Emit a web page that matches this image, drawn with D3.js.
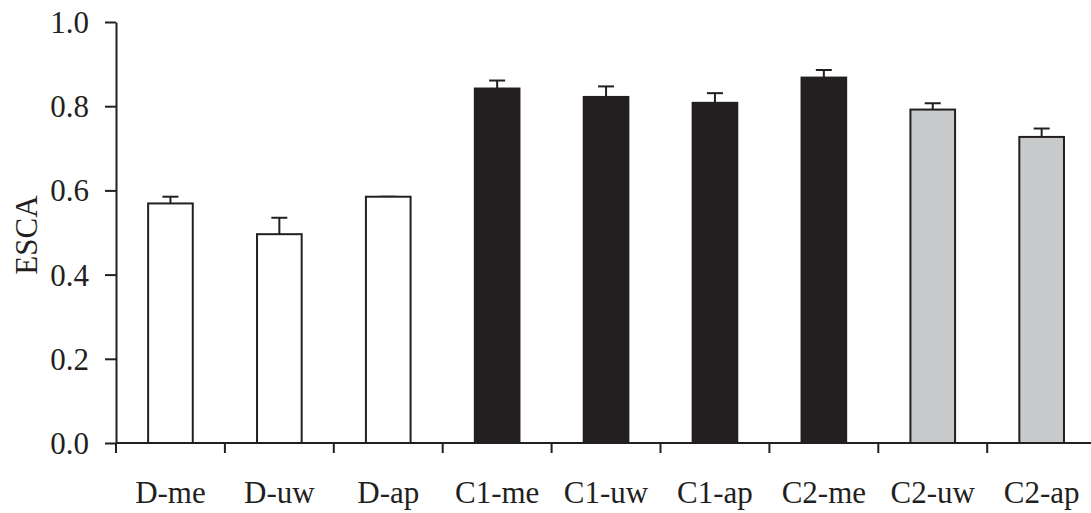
<!DOCTYPE html>
<html>
<head>
<meta charset="utf-8">
<script src="https://cdn.jsdelivr.net/npm/d3@7"></script>
<style>
  body { margin: 0; background: #fff; }
  svg text { font-family: "Liberation Serif", "Times New Roman", serif; fill: #231f20; }
</style>
</head>
<body>
<div id="chart"></div>
<script>
// categories and values
const categories = ["D-me", "D-uw", "D-ap", "C1-me", "C1-uw", "C1-ap", "C2-me", "C2-uw", "C2-ap"];
const shades = ["open", "open", "open", "dark", "dark", "dark", "dark", "grey", "grey"];
const means = [0.569, 0.496, 0.585, 0.842, 0.822, 0.808, 0.868, 0.792, 0.727];
const errors = [0.016, 0.039, 0.0, 0.019, 0.025, 0.023, 0.018, 0.015, 0.020];
const yTicks = [0.0, 0.2, 0.4, 0.6, 0.8, 1.0];

const shadeFill = { open: "#ffffff", dark: "#231f20", grey: "#c8c9cb" };

const width = 1091, height = 513;
const margin = { left: 116, top: 22 };
const plotBottom = 443;
const step = 108.9;

const svg = d3.select("#chart").append("svg")
  .attr("width", width)
  .attr("height", height);

const x = d3.scaleBand()
  .domain(categories)
  .range([margin.left, margin.left + categories.length * step])
  .paddingInner(0.59)
  .paddingOuter(0.295);

const y = d3.scaleLinear()
  .domain([0, 1])
  .range([plotBottom, margin.top]);

const ink = "#231f20";
const fontSize = "31px";

// y axis
const yAxis = svg.append("g")
  .attr("transform", `translate(${margin.left},0)`)
  .call(d3.axisLeft(y).tickValues(yTicks).tickFormat(d3.format(".1f")).tickSize(11).tickSizeOuter(0));
yAxis.select(".domain").attr("stroke", ink).attr("stroke-width", 2);
yAxis.selectAll(".tick line").attr("stroke", ink).attr("stroke-width", 2);
yAxis.selectAll(".tick text")
  .attr("x", -27)
  .attr("dy", "0.34em")
  .style("font-size", fontSize);

// x axis: ticks sit on the category boundaries
const boundaries = d3.range(categories.length + 1).map(i => margin.left + i * step);
svg.append("line")
  .attr("x1", margin.left).attr("x2", width)
  .attr("y1", plotBottom).attr("y2", plotBottom)
  .attr("stroke", ink).attr("stroke-width", 2);
svg.selectAll(".xtick")
  .data(boundaries.filter(b => b <= width))
  .enter()
  .append("line")
  .attr("class", "xtick")
  .attr("x1", d => d).attr("x2", d => d)
  .attr("y1", plotBottom).attr("y2", plotBottom + 10)
  .attr("stroke", ink).attr("stroke-width", 2);

svg.selectAll(".xlabel")
  .data(categories)
  .enter()
  .append("text")
  .attr("class", "xlabel")
  .attr("x", d => x(d) + x.bandwidth() / 2)
  .attr("y", 503)
  .attr("text-anchor", "middle")
  .style("font-size", fontSize)
  .text(d => d);

// y label
svg.append("text")
  .attr("transform", "translate(37,235) rotate(-90)")
  .attr("text-anchor", "middle")
  .style("font-size", fontSize)
  .text("ESCA");

const data = categories.map((c, i) => ({ cat: c, shade: shades[i], mean: means[i], err: errors[i] }));

// error bars (upward only)
const capHalf = 8;
svg.selectAll(".err")
  .data(data)
  .enter()
  .append("line")
  .attr("class", "err")
  .attr("x1", d => x(d.cat) + x.bandwidth() / 2)
  .attr("x2", d => x(d.cat) + x.bandwidth() / 2)
  .attr("y1", d => y(d.mean))
  .attr("y2", d => y(d.mean + d.err))
  .attr("stroke", ink).attr("stroke-width", 2);
svg.selectAll(".cap")
  .data(data)
  .enter()
  .append("line")
  .attr("class", "cap")
  .attr("x1", d => x(d.cat) + x.bandwidth() / 2 - capHalf)
  .attr("x2", d => x(d.cat) + x.bandwidth() / 2 + capHalf)
  .attr("y1", d => y(d.mean + d.err))
  .attr("y2", d => y(d.mean + d.err))
  .attr("stroke", ink).attr("stroke-width", 2);

// bars
svg.selectAll(".bar")
  .data(data)
  .enter()
  .append("rect")
  .attr("class", "bar")
  .attr("x", d => x(d.cat))
  .attr("y", d => y(d.mean))
  .attr("width", x.bandwidth())
  .attr("height", d => plotBottom - y(d.mean))
  .attr("fill", d => shadeFill[d.shade])
  .attr("stroke", ink)
  .attr("stroke-width", 2);
</script>
</body>
</html>
